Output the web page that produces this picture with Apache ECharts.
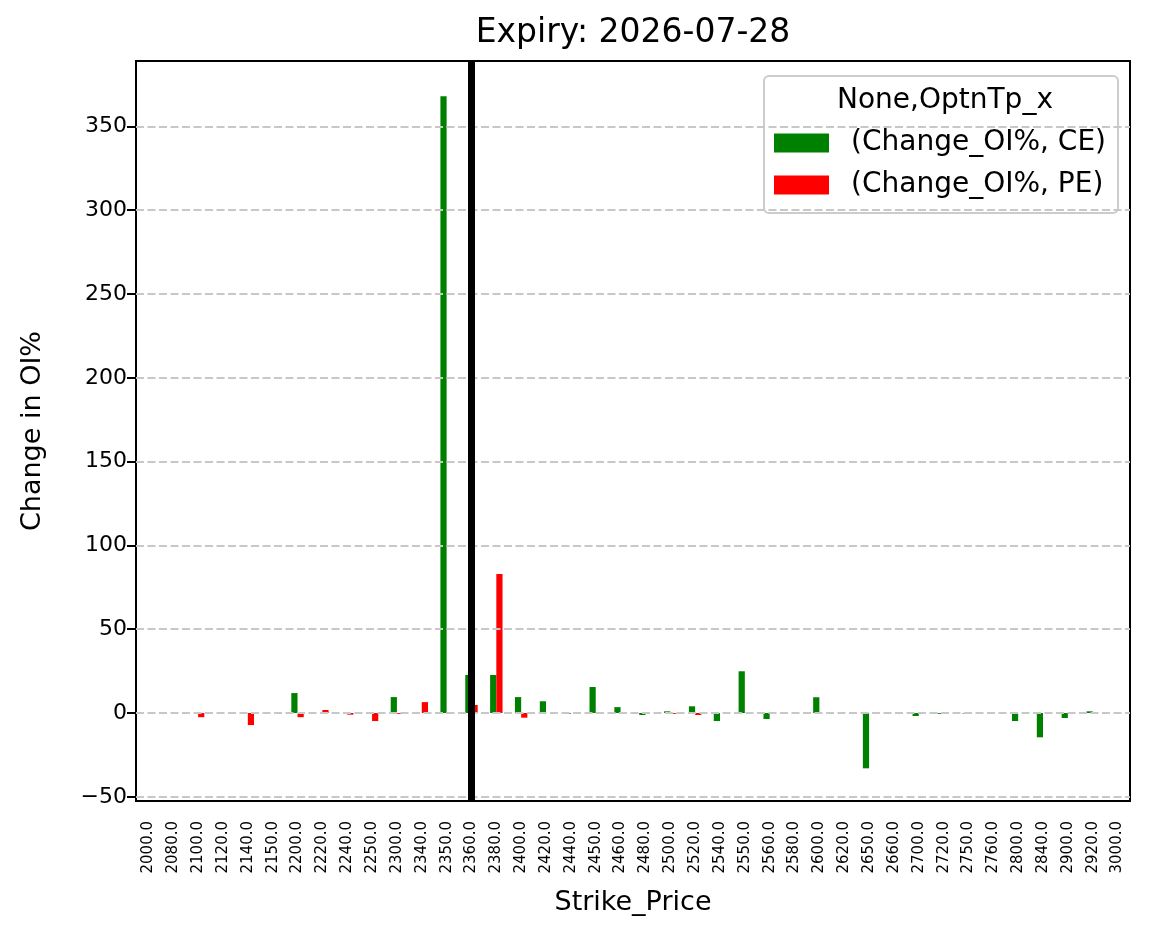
<!DOCTYPE html>
<html>
<head>
<meta charset="utf-8">
<script src="https://cdn.jsdelivr.net/npm/echarts@6/dist/echarts.min.js"></script>
<style>
  html, body { margin: 0; padding: 0; background: #fff; }
  #main { width: 1149px; height: 939px; }
</style>
</head>
<body>
<div id="main"></div>
<script>
// strikes (x categories)
var strikes = [2000, 2080, 2100, 2120, 2140, 2150, 2200, 2220, 2240, 2250,
  2300, 2340, 2350, 2360, 2380, 2400, 2420, 2440, 2450, 2460,
  2480, 2500, 2520, 2540, 2550, 2560, 2580, 2600, 2620, 2650,
  2660, 2700, 2720, 2750, 2760, 2800, 2840, 2900, 2920, 3000];
// Change_OI% for CE and PE, null = no value
var ceChange = [null, null, null, null, null, null, 11.9, null, null, null,
  9.5, null, 368, 22.7, 22.7, 9.5, 7, -0.5, 15.5, 3.5,
  -1.2, 1, 4, -4.8, 24.9, -3.6, null, 9.4, null, -33,
  null, -1.8, -0.5, -0.3, null, -4.8, -14.5, -3, 1, null];
var peChange = [0.5, null, -2.5, null, -7.2, null, -2.5, 1.8, -1.0, -4.8,
  -0.5, 6.5, -0.5, 4.8, 83, -2.8, null, null, null, null,
  null, -0.5, -1.2, null, null, null, null, null, null, null,
  null, null, null, null, null, null, null, null, null, null];
var yTicks = [-50, 0, 50, 100, 150, 200, 250, 300, 350];
var spotStrike = 2360;

var cats = strikes.map(function (s) { return s.toFixed(1); });
var font = 'DejaVu Sans';

var chart = echarts.init(document.getElementById('main'));
var option = {
  animation: false,
  textStyle: { fontFamily: font, color: '#000' },
  title: [{
    text: 'Expiry: 2026-07-28',
    left: 633, top: 17, textAlign: 'center', padding: 0,
    textStyle: { fontFamily: font, fontSize: 33, fontWeight: 'normal', color: '#000' }
  }, {
    text: 'None,OptnTp_x',
    left: 945, top: 87, textAlign: 'center', padding: 0,
    textStyle: { fontFamily: font, fontSize: 28, fontWeight: 'normal', color: '#000' }
  }],
  legend: {
    data: ['(Change_OI%, CE)', '(Change_OI%, PE)'],
    orient: 'vertical',
    left: 764, top: 76,
    padding: [53, 12, 14, 10],
    itemWidth: 55, itemHeight: 19, itemGap: 14,
    icon: 'rect',
    borderColor: '#cccccc', borderWidth: 2, borderRadius: 5,
    backgroundColor: 'rgba(255,255,255,0.8)',
    textStyle: { fontFamily: font, fontSize: 28, color: '#000', padding: [0, 0, 0, 17] }
  },
  grid: {
    left: 136, top: 61, right: 19, bottom: 138,
    show: true, borderColor: '#000', borderWidth: 2
  },
  xAxis: {
    type: 'category',
    data: cats,
    name: 'Strike_Price',
    nameLocation: 'middle', nameGap: 88,
    nameTextStyle: { fontFamily: font, fontSize: 27, color: '#000' },
    axisLine: { onZero: false, lineStyle: { color: '#000', width: 2 } },
    axisTick: { alignWithLabel: true, length: 9, lineStyle: { color: '#000', width: 2 } },
    axisLabel: { rotate: 90, fontSize: 15, color: '#000', margin: 20, interval: 0, fontFamily: font },
    splitLine: { show: false }
  },
  yAxis: {
    type: 'value',
    min: -52.5, max: 389,
    name: 'Change in OI%',
    nameLocation: 'middle', nameGap: 90,
    nameTextStyle: { fontFamily: font, fontSize: 27, color: '#000' },
    axisLine: { show: true, lineStyle: { color: '#000', width: 2 } },
    axisTick: { show: true, length: 9, customValues: yTicks, lineStyle: { color: '#000', width: 2 } },
    axisLabel: {
      fontSize: 22, color: '#000', margin: 9, customValues: yTicks, fontFamily: font,
      formatter: function (v) { return String(v).replace('-', '\u2212'); }
    },
    splitLine: { show: false }
  },
  series: [{
    name: '(Change_OI%, CE)',
    type: 'bar',
    data: ceChange,
    barWidth: '25%', barGap: '0%',
    itemStyle: { color: '#008000' },
    z: 2
  }, {
    name: '(Change_OI%, PE)',
    type: 'bar',
    data: peChange,
    barWidth: '25%', barGap: '0%',
    itemStyle: { color: '#ff0000' },
    z: 2
  }, {
    name: 'grid',
    type: 'line',
    data: [],
    z: 3,
    markLine: {
      silent: true, symbol: 'none', label: { show: false },
      lineStyle: { color: '#c8c8c8', type: [8, 3.5], width: 2 },
      data: yTicks.map(function (v) { return { yAxis: v }; })
    }
  }, {
    name: 'spot',
    type: 'line',
    data: [],
    z: 4,
    markLine: {
      silent: true, symbol: 'none', label: { show: false },
      lineStyle: { color: '#000', type: 'solid', width: 7 },
      data: [{ xAxis: spotStrike.toFixed(1) }]
    }
  }]
};
chart.setOption(option);
</script>
</body>
</html>
